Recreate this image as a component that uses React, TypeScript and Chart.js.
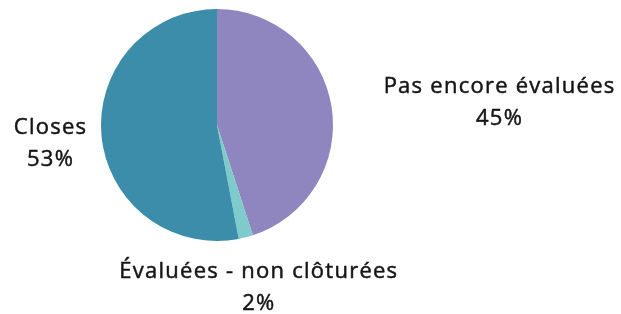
import React, { useEffect, useRef } from "react";
import { Chart, registerables } from "chart.js";

Chart.register(...registerables);

const categories = ["Pas encore évaluées", "Évaluées - non clôturées", "Closes"];
const values = [45, 2, 53];
const percentLabels = ["45%", "2%", "53%"];
const colors = ["#8F86C0", "#7FCBCB", "#3B8DAA"];

// label offsets relative to the outer point of each slice's mid angle
const labelOffsets = [
  { dx: 168, dy: -6 },
  { dx: 13, dy: 49 },
  { dx: -51, dy: 6 },
];

const outsideLabels = {
  id: "outsideLabels",
  afterDraw(chart: any) {
    const ctx = chart.ctx;
    const meta = chart.getDatasetMeta(0);
    ctx.save();
    ctx.font = "400 22px 'Open Sans'";
    ctx.fillStyle = "#151515";
    ctx.strokeStyle = "#151515";
    ctx.lineWidth = 0.5;
    ctx.lineJoin = "round";
    ctx.textAlign = "center";
    ctx.textBaseline = "alphabetic";
    try { (ctx as any).letterSpacing = "1.25px"; } catch (e) {}
    meta.data.forEach((arc: any, i: number) => {
      const { x, y, startAngle, endAngle, outerRadius } = arc.getProps(
        ["x", "y", "startAngle", "endAngle", "outerRadius"],
        true
      );
      const mid = (startAngle + endAngle) / 2;
      const px = x + Math.cos(mid) * outerRadius + labelOffsets[i].dx;
      const py = y + Math.sin(mid) * outerRadius + labelOffsets[i].dy;
      ctx.fillText(categories[i], px, py - 8);
      ctx.strokeText(categories[i], px, py - 8);
      ctx.fillText(percentLabels[i], px, py + 24);
      ctx.strokeText(percentLabels[i], px, py + 24);
    });
    ctx.restore();
  },
};

export default function App() {
  const ref = useRef<HTMLCanvasElement>(null);
  useEffect(() => {
    document.body.style.margin = "0";
    const chart = new Chart(ref.current!, {
      type: "pie",
      data: {
        labels: categories,
        datasets: [
          {
            data: values,
            backgroundColor: colors,
            borderWidth: 0,
          },
        ],
      },
      options: {
        responsive: false,
        animation: false,
        layout: { padding: { left: 101, right: 288, top: 9, bottom: 73 } },
        plugins: {
          legend: { display: false },
          tooltip: { enabled: false },
        },
      },
      plugins: [outsideLabels],
    });
    return () => chart.destroy();
  }, []);
  return <canvas ref={ref} width={621} height={314} style={{ display: "block" }} />;
}
